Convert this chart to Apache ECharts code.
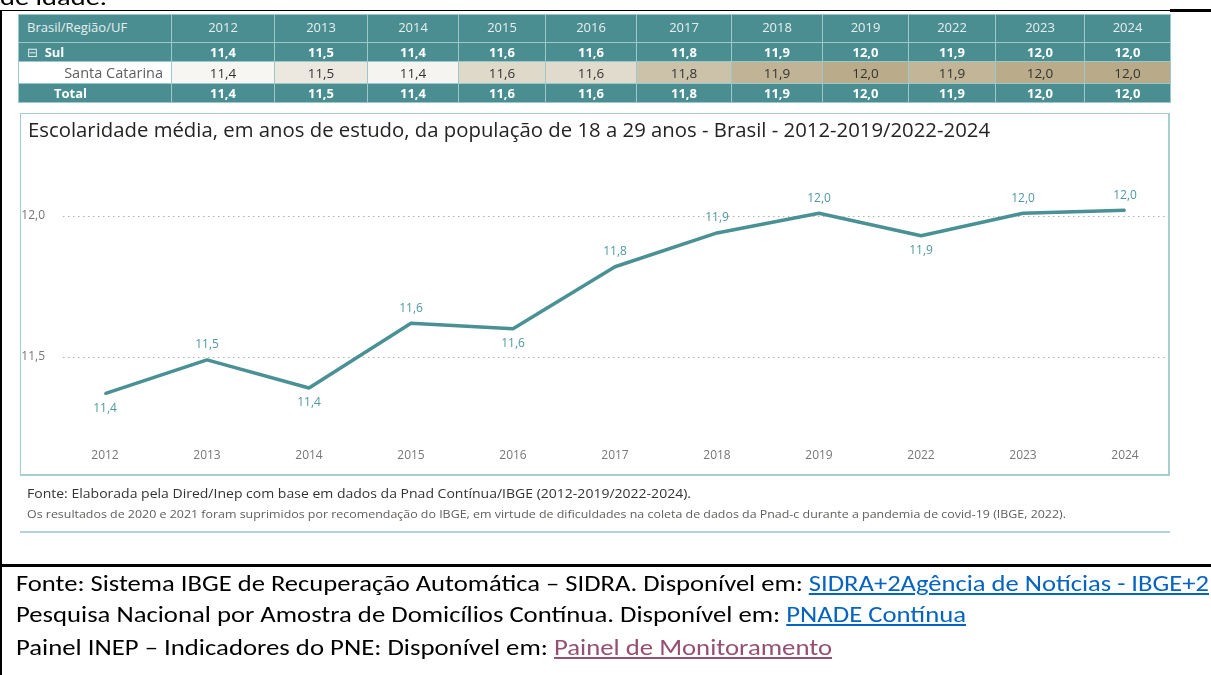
<!DOCTYPE html>
<html lang="pt-BR">
<head>
<meta charset="utf-8">
<title>Escolaridade média - Santa Catarina</title>
<script src="https://cdn.jsdelivr.net/npm/echarts@6/dist/echarts.min.js"></script>
<style>
  html, body { margin: 0; padding: 0; background: #fff; }
  body { position: relative; width: 1211px; height: 675px; overflow: hidden; font-family: "Segoe UI", "Open Sans", sans-serif; }
  .abs { position: absolute; }
  .fit { display: inline-block; white-space: nowrap; transform-origin: 0 50%; }
  #chart { position: absolute; left: 0; top: 0; width: 1211px; height: 675px; z-index: 1; }
  #panel { left: 20px; top: 113px; width: 1147px; height: 360px; border: 1px solid #a6cdd0; border-right-width: 2px; border-bottom-width: 2px; z-index: 0; }
  .txt { z-index: 2; white-space: nowrap; }
  .blk { background: #000; z-index: 3; }
  #tbl { position: absolute; left: 18px; top: 14px; z-index: 2; border-collapse: collapse; table-layout: fixed; width: 1152px; font-size: 13px; }
  #tbl td { border: 1px solid #9cc8ca; padding: 0 8px; white-space: nowrap; overflow: hidden; text-align: center; box-sizing: border-box; }
  #tbl tr.hd td { background: #4a8e92; color: #e6efef; height: 28px; vertical-align: top; padding-top: 3px; }
  #tbl tr.hd td:first-child { text-align: left; }
  #tbl tr.bold td { background: #4a8e92; color: #fff; font-weight: bold; height: 19px; line-height: 17px; }
  #tbl tr.bold td:first-child { text-align: left; }
  #tbl tr.uf td { color: #333; height: 22px; font-size: 13.5px; }
  #tbl tr.uf td:first-child { background: #fff; color: #605e5c; text-align: right; font-size: 14.5px; }
  .foot { font-family: Calibri, "Open Sans", sans-serif; font-size: 22.5px; line-height: 28px; color: #000; left: 16px; }
  .lnk { color: #0563c1; text-decoration: underline; }
  .lnk2 { color: #954f72; text-decoration: underline; }
</style>
</head>
<body>
<div class="abs txt foot" style="left:0;top:-16px;"><span class="fit" data-w="107">de idade.</span></div>
<div class="abs blk" style="left:0;top:10px;width:1211px;height:1px;"></div>
<div class="abs blk" style="left:1170px;top:9px;width:41px;height:3px;"></div>
<div class="abs blk" style="left:0;top:10px;width:2px;height:665px;"></div>
<div class="abs blk" style="left:0;top:564px;width:1211px;height:3px;"></div>

<table id="tbl"></table>

<div id="panel" class="abs"></div>
<div class="abs txt" style="left:28px;top:117px;font-size:20px;line-height:26px;color:#252423;">
  <span class="fit" data-w="962">Escolaridade média, em anos de estudo, da população de 18 a 29 anos - Brasil - 2012-2019/2022-2024</span>
</div>
<div id="chart"></div>

<div class="abs txt" style="left:27px;top:486px;font-size:12px;line-height:16px;color:#333;">
  <span class="fit" data-w="664">Fonte: Elaborada pela Dired/Inep com base em dados da Pnad Contínua/IBGE (2012-2019/2022-2024).</span>
</div>
<div class="abs txt" style="left:27px;top:506px;font-size:11px;line-height:16px;color:#605e5c;">
  <span class="fit" data-w="1039">Os resultados de 2020 e 2021 foram suprimidos por recomendação do IBGE, em virtude de dificuldades na coleta de dados da Pnad-c durante a pandemia de covid-19 (IBGE, 2022).</span>
</div>
<div class="abs" style="left:20px;top:531px;width:1150px;height:2px;background:#b4d5d7;z-index:2;"></div>

<div class="abs txt foot" style="top:570px;"><span class="fit" data-w="1193">Fonte: Sistema IBGE de Recuperação Automática – SIDRA. Disponível em: <span class="lnk">SIDRA+2Agência de Notícias - IBGE+2</span></span></div>
<div class="abs txt foot" style="top:601px;"><span class="fit" data-w="950">Pesquisa Nacional por Amostra de Domicílios Contínua. Disponível em: <span class="lnk">PNADE Contínua</span></span></div>
<div class="abs txt foot" style="top:634px;"><span class="fit" data-w="816">Painel INEP – Indicadores do PNE: Disponível em: <span class="lnk2">Painel de Monitoramento</span></span></div>

<script>
// anos (as colunas da tabela e o eixo x)
const years = ['2012', '2013', '2014', '2015', '2016', '2017', '2018', '2019', '2022', '2023', '2024'];
// escolaridade média, Santa Catarina
const scValues = [11.37, 11.49, 11.39, 11.62, 11.60, 11.82, 11.94, 12.01, 11.93, 12.01, 12.02];
// Sul e Total iguais a SC nesta tabela
const sulValues = scValues;
const totalValues = scValues;
// marcas do eixo y
const yTicks = [11.5, 12.0];
const yMin = 11.2;
const yMax = 12.1;

// onde fica cada rótulo de dado
const labelPos = ['bottom', 'top', 'bottom', 'top', 'bottom', 'top', 'top', 'top', 'bottom', 'top', 'top'];

function fmt(v) {
  return Number(v).toFixed(1).replace('.', ',');
}

// cor de fundo da linha Santa Catarina (escala bege)
function heat(v) {
  const lo = Math.min(...scValues), hi = Math.max(...scValues);
  const t = (v - lo) / (hi - lo);
  const a = [247, 246, 243], b = [185, 171, 137];
  const c = a.map((x, i) => Math.round(x + (b[i] - x) * t));
  return 'rgb(' + c.join(',') + ')';
}

// tabela
const colW = [153, 103, 93, 91, 87, 91, 95, 91, 86, 87, 89, 86];
let html = '<colgroup>' + colW.map(w => '<col style="width:' + w + 'px">').join('') + '</colgroup>';
html += '<tr class="hd"><td>Brasil/Região/UF</td>' + years.map(y => '<td>' + y + '</td>').join('') + '</tr>';
html += '<tr class="bold"><td><span style="font-weight:normal;color:#dfeaea;font-family:\'DejaVu Sans\';">⊟</span>&nbsp;&nbsp;Sul</td>' + sulValues.map(v => '<td>' + fmt(v) + '</td>').join('') + '</tr>';
html += '<tr class="uf"><td>Santa Catarina</td>' + scValues.map(v => '<td style="background:' + heat(v) + '">' + fmt(v) + '</td>').join('') + '</tr>';
html += '<tr class="bold"><td style="padding-left:35px">Total</td>' + totalValues.map(v => '<td>' + fmt(v) + '</td>').join('') + '</tr>';
document.getElementById('tbl').innerHTML = html;

// ajusta largura dos textos (fonte substituta)
function fitAll() {
  document.querySelectorAll('.fit').forEach(el => {
    el.style.transform = 'none';
    const w = el.getBoundingClientRect().width;
    el.style.transform = 'scaleX(' + (+el.dataset.w / w) + ')';
  });
}
fitAll();
if (document.fonts) document.fonts.ready.then(fitAll);

// gráfico
const chart = echarts.init(document.getElementById('chart'));
const font = '"Segoe UI", "Open Sans", sans-serif';
const option = {
  animation: false,
  grid: [
    { left: 63, right: 44, top: 187.8, bottom: 233.4, outerBoundsMode: 'none' },
    { left: 105, right: 86, top: 187.8, bottom: 233.4, outerBoundsMode: 'none' }
  ],
  xAxis: [
    { gridIndex: 0, type: 'category', data: years, show: false },
    {
      gridIndex: 1, type: 'category', data: years, boundaryGap: false,
      axisLine: { show: false }, axisTick: { show: false }, splitLine: { show: false },
      axisLabel: { color: '#777', fontSize: 12, fontFamily: font, margin: 8 }
    }
  ],
  yAxis: [
    {
      gridIndex: 0, type: 'value', min: yMin, max: yMax,
      axisLine: { show: false },
      axisTick: { show: false, customValues: yTicks },
      axisLabel: { customValues: yTicks, formatter: v => fmt(v), color: '#777', fontSize: 12, fontFamily: font, margin: 18 },
      splitLine: { show: true, lineStyle: { color: '#b0b0b0', width: 1, type: [1.5, 3.5] } }
    },
    { gridIndex: 1, type: 'value', min: yMin, max: yMax, show: false, splitLine: { show: false } }
  ],
  series: [
    {
      type: 'line',
      xAxisIndex: 1,
      yAxisIndex: 1,
      data: scValues.map((v, i) => ({ value: v, label: { position: labelPos[i] } })),
      symbol: 'circle',
      symbolSize: 2,
      showSymbol: true,
      itemStyle: { color: '#4a9195' },
      lineStyle: { color: '#4a9195', width: 3.5 },
      label: {
        show: true,
        formatter: p => fmt(p.value),
        color: '#4f999e',
        fontSize: 12,
        fontFamily: font,
        distance: 8
      },
      emphasis: { disabled: true }
    }
  ]
};
chart.setOption(option);
window.addEventListener('resize', () => chart.resize());
</script>
</body>
</html>
